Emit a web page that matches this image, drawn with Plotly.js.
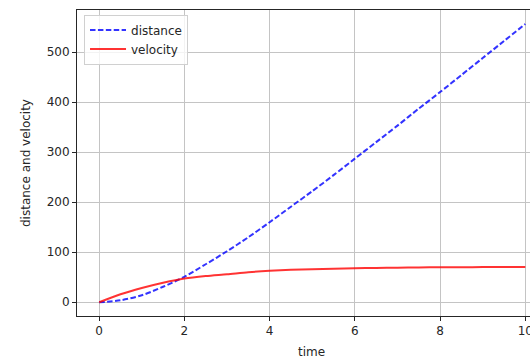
<!DOCTYPE html>
<html>
<head>
<meta charset="utf-8">
<script src="https://cdn.plot.ly/plotly-3.0.1.min.js"></script>
<style>html,body{margin:0;padding:0;background:#fff;}#chart{width:530px;height:360px;}</style>
</head>
<body>
<div id="chart"></div>
<script>
const time = [0, 0.5, 1, 1.5, 2, 2.5, 3, 3.5, 4, 4.5, 5, 5.5, 6, 6.5, 7, 7.5, 8, 8.5, 9, 9.5, 10];
const distance = [0, 4, 14, 31, 51, 76, 102, 130, 160, 191, 222, 254, 287, 320, 353, 387, 420, 454, 488, 522, 556];
const velocity = [0, 16, 28.5, 39, 47.5, 52.5, 56, 60, 62.8, 64.8, 66.2, 67.2, 68, 68.7, 69.2, 69.6, 69.9, 70.1, 70.3, 70.4, 70.5];
const xTicks = [0, 2, 4, 6, 8, 10];
const yTicks = [0, 100, 200, 300, 400, 500];

const font = {family: 'DejaVu Sans', size: 12, color: '#262626'};

const traces = [
  {x: time, y: distance, name: 'distance', mode: 'lines',
   line: {color: 'rgba(0,0,255,0.8)', width: 2, dash: '5.5px,2.4px', shape: 'spline', smoothing: 0.8}},
  {x: time, y: velocity, name: 'velocity', mode: 'lines',
   line: {color: 'rgba(255,0,0,0.8)', width: 2, shape: 'spline', smoothing: 0.8}}
];

const layout = {
  width: 530, height: 360,
  margin: {l: 77, r: 0, t: 10, b: 44},
  paper_bgcolor: '#fff', plot_bgcolor: '#fff',
  font: font,
  showlegend: true,
  legend: {x: 0.0155, y: 0.985, xanchor: 'left', yanchor: 'top',
           bgcolor: 'rgba(255,255,255,0.8)', bordercolor: '#d0d0d0', borderwidth: 1,
           font: font, tracegroupgap: 0, itemwidth: 36},
  xaxis: {range: [-0.52, 10.11], tickvals: xTicks, ticktext: xTicks.map(String),
          showgrid: true, gridcolor: '#c4c4c4', gridwidth: 1, zeroline: false,
          showline: true, linecolor: '#262626', linewidth: 1, mirror: true,
          ticks: 'outside', ticklen: 4, tickcolor: '#262626', tickfont: font,
          ticklabeloverflow: 'allow'},
  yaxis: {range: [-27.4, 584], tickvals: yTicks, ticktext: yTicks.map(String),
          showgrid: true, gridcolor: '#c4c4c4', gridwidth: 1, zeroline: false,
          showline: true, linecolor: '#262626', linewidth: 1, mirror: false,
          ticks: 'outside', ticklen: 4, tickcolor: '#262626', tickfont: font},
  annotations: [
    {text: 'time', xref: 'paper', yref: 'paper', x: 0.518, y: -0.1187,
     xanchor: 'center', yanchor: 'middle', showarrow: false, font: font},
    {text: 'distance and velocity', xref: 'paper', yref: 'paper', x: -0.1126, y: 0.5,
     xanchor: 'center', yanchor: 'middle', textangle: -90, showarrow: false, font: font}
  ]
};

Plotly.newPlot('chart', traces, layout, {displayModeBar: false, staticPlot: true});
</script>
</body>
</html>
